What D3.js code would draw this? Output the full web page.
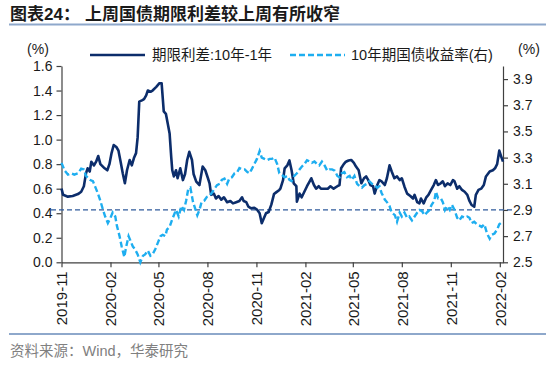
<!DOCTYPE html>
<html>
<head>
<meta charset="utf-8">
<script src="https://cdn.jsdelivr.net/npm/d3@7"></script>
<style>
  body { margin: 0; background: #fff; }
  svg { display: block; font-family: "Liberation Sans", "Noto Sans CJK SC", sans-serif; }
</style>
</head>
<body>
<svg id="chart" width="550" height="365"></svg>
<script>
// 期限利差:10年-1年 (left axis, %)
const spread = [
  ['2019-11-01', 0.60], ['2019-11-04', 0.55], ['2019-11-13', 0.535], ['2019-11-22', 0.54],
  ['2019-12-02', 0.556], ['2019-12-08', 0.575], ['2019-12-13', 0.62], ['2019-12-17', 0.725],
  ['2019-12-20', 0.766], ['2019-12-24', 0.74], ['2019-12-27', 0.82], ['2020-01-01', 0.79],
  ['2020-01-05', 0.82], ['2020-01-09', 0.866], ['2020-01-13', 0.80], ['2020-01-21', 0.766],
  ['2020-01-26', 0.75], ['2020-01-30', 0.80], ['2020-02-03', 0.89], ['2020-02-07', 0.956],
  ['2020-02-12', 0.94], ['2020-02-16', 0.91], ['2020-02-20', 0.82], ['2020-02-24', 0.725],
  ['2020-02-28', 0.644], ['2020-03-03', 0.75], ['2020-03-08', 0.834], ['2020-03-12', 0.79],
  ['2020-03-16', 0.85], ['2020-03-20', 0.89], ['2020-03-23', 1.02], ['2020-03-26', 1.31],
  ['2020-03-31', 1.32], ['2020-04-04', 1.33], ['2020-04-08', 1.36], ['2020-04-11', 1.40],
  ['2020-04-16', 1.39], ['2020-04-20', 1.40], ['2020-04-27', 1.43], ['2020-05-03', 1.46],
  ['2020-05-07', 1.46], ['2020-05-11', 1.23], ['2020-05-15', 1.21], ['2020-05-19', 1.12],
  ['2020-05-22', 1.05], ['2020-05-25', 0.86], ['2020-05-27', 0.75], ['2020-05-30', 0.70],
  ['2020-06-03', 0.75], ['2020-06-06', 0.685], ['2020-06-11', 0.766], ['2020-06-16', 0.67],
  ['2020-06-20', 0.72], ['2020-06-24', 0.834], ['2020-06-28', 0.90], ['2020-07-03', 0.834],
  ['2020-07-06', 0.72], ['2020-07-11', 0.657], ['2020-07-17', 0.63], ['2020-07-23', 0.78],
  ['2020-07-28', 0.75], ['2020-08-02', 0.685], ['2020-08-05', 0.644], ['2020-08-08', 0.55],
  ['2020-08-13', 0.56], ['2020-08-17', 0.52], ['2020-08-22', 0.54], ['2020-08-27', 0.51],
  ['2020-09-01', 0.53], ['2020-09-07', 0.49], ['2020-09-13', 0.50], ['2020-09-18', 0.48],
  ['2020-09-24', 0.49], ['2020-09-30', 0.50], ['2020-10-05', 0.53], ['2020-10-08', 0.50],
  ['2020-10-13', 0.49], ['2020-10-17', 0.453], ['2020-10-22', 0.44], ['2020-10-28', 0.445],
  ['2020-11-02', 0.43], ['2020-11-07', 0.40], ['2020-11-11', 0.318], ['2020-11-15', 0.36],
  ['2020-11-19', 0.40], ['2020-11-24', 0.41], ['2020-11-29', 0.47], ['2020-12-04', 0.556],
  ['2020-12-08', 0.57], ['2020-12-14', 0.59], ['2020-12-16', 0.60], ['2020-12-21', 0.67],
  ['2020-12-24', 0.766], ['2020-12-29', 0.79], ['2021-01-02', 0.83], ['2021-01-06', 0.75],
  ['2021-01-10', 0.644], ['2021-01-15', 0.62], ['2021-01-16', 0.494], ['2021-01-21', 0.56],
  ['2021-01-25', 0.53], ['2021-01-30', 0.575], ['2021-02-04', 0.62], ['2021-02-09', 0.66],
  ['2021-02-12', 0.685], ['2021-02-17', 0.63], ['2021-02-21', 0.60], ['2021-02-26', 0.62],
  ['2021-03-02', 0.60], ['2021-03-09', 0.60], ['2021-03-15', 0.60], ['2021-03-20', 0.62],
  ['2021-03-26', 0.60], ['2021-04-02', 0.62], ['2021-04-06', 0.63], ['2021-04-09', 0.766],
  ['2021-04-14', 0.80], ['2021-04-18', 0.82], ['2021-04-23', 0.83], ['2021-04-28', 0.834],
  ['2021-05-03', 0.81], ['2021-05-07', 0.78], ['2021-05-12', 0.75], ['2021-05-17', 0.644],
  ['2021-05-22', 0.685], ['2021-05-26', 0.70], ['2021-05-30', 0.67], ['2021-06-03', 0.63],
  ['2021-06-08', 0.62], ['2021-06-11', 0.56], ['2021-06-16', 0.63], ['2021-06-20', 0.67],
  ['2021-06-24', 0.66], ['2021-06-30', 0.63], ['2021-07-04', 0.685], ['2021-07-09', 0.79],
  ['2021-07-13', 0.74], ['2021-07-18', 0.685], ['2021-07-23', 0.70], ['2021-07-28', 0.67],
  ['2021-08-01', 0.685], ['2021-08-06', 0.616], ['2021-08-11', 0.56], ['2021-08-17', 0.54],
  ['2021-08-22', 0.52], ['2021-08-25', 0.55], ['2021-08-30', 0.49], ['2021-09-03', 0.48],
  ['2021-09-06', 0.52], ['2021-09-11', 0.48], ['2021-09-16', 0.53], ['2021-09-20', 0.55],
  ['2021-09-25', 0.59], ['2021-09-30', 0.63], ['2021-10-04', 0.67], ['2021-10-08', 0.63],
  ['2021-10-13', 0.644], ['2021-10-17', 0.66], ['2021-10-21', 0.62], ['2021-10-26', 0.644],
  ['2021-10-31', 0.63], ['2021-11-05', 0.67], ['2021-11-08', 0.66], ['2021-11-13', 0.60],
  ['2021-11-17', 0.62], ['2021-11-22', 0.59], ['2021-11-27', 0.575], ['2021-12-02', 0.55],
  ['2021-12-06', 0.50], ['2021-12-10', 0.467], ['2021-12-15', 0.453], ['2021-12-18', 0.55],
  ['2021-12-23', 0.59], ['2021-12-28', 0.60], ['2022-01-02', 0.63], ['2022-01-06', 0.70],
  ['2022-01-13', 0.74], ['2022-01-19', 0.75], ['2022-01-23', 0.766], ['2022-01-27', 0.80],
  ['2022-01-31', 0.91], ['2022-02-03', 0.87], ['2022-02-07', 0.82]
];

// 10年期国债收益率 (right axis, %)
const yield10y = [
  ['2019-11-01', 3.26], ['2019-11-07', 3.20], ['2019-11-13', 3.17], ['2019-11-19', 3.18],
  ['2019-11-25', 3.17], ['2019-12-02', 3.18], ['2019-12-08', 3.215], ['2019-12-13', 3.21],
  ['2019-12-17', 3.16], ['2019-12-24', 3.13], ['2019-12-30', 3.12], ['2020-01-03', 3.08],
  ['2020-01-08', 3.03], ['2020-01-13', 2.97], ['2020-01-18', 2.90], ['2020-01-22', 2.85],
  ['2020-01-27', 2.80], ['2020-02-01', 2.84], ['2020-02-05', 2.88], ['2020-02-10', 2.85],
  ['2020-02-13', 2.78], ['2020-02-18', 2.70], ['2020-02-22', 2.62], ['2020-02-27', 2.54],
  ['2020-03-01', 2.61], ['2020-03-06', 2.70], ['2020-03-10', 2.66], ['2020-03-14', 2.62],
  ['2020-03-18', 2.60], ['2020-03-23', 2.56], ['2020-03-28', 2.50], ['2020-04-02', 2.55],
  ['2020-04-06', 2.56], ['2020-04-11', 2.59], ['2020-04-16', 2.55], ['2020-04-20', 2.56],
  ['2020-04-25', 2.60], ['2020-04-30', 2.65], ['2020-05-05', 2.70], ['2020-05-09', 2.71],
  ['2020-05-14', 2.70], ['2020-05-17', 2.75], ['2020-05-22', 2.77], ['2020-05-27', 2.83],
  ['2020-05-30', 2.86], ['2020-06-03', 2.90], ['2020-06-08', 2.85], ['2020-06-13', 2.93],
  ['2020-06-18', 2.90], ['2020-06-22', 2.97], ['2020-06-26', 3.06], ['2020-06-30', 3.07],
  ['2020-07-05', 2.96], ['2020-07-09', 2.91], ['2020-07-13', 2.86], ['2020-07-17', 2.90],
  ['2020-07-21', 2.96], ['2020-07-26', 2.97], ['2020-07-31', 3.00], ['2020-08-05', 3.01],
  ['2020-08-09', 3.03], ['2020-08-14', 3.06], ['2020-08-19', 3.09], ['2020-08-24', 3.10],
  ['2020-08-28', 3.13], ['2020-09-02', 3.14], ['2020-09-07', 3.10], ['2020-09-11', 3.14],
  ['2020-09-16', 3.15], ['2020-09-21', 3.18], ['2020-09-26', 3.19], ['2020-09-30', 3.22],
  ['2020-10-05', 3.21], ['2020-10-10', 3.21], ['2020-10-15', 3.19], ['2020-10-19', 3.18],
  ['2020-10-23', 3.21], ['2020-10-28', 3.25], ['2020-11-02', 3.29], ['2020-11-07', 3.35],
  ['2020-11-11', 3.30], ['2020-11-16', 3.29], ['2020-11-21', 3.28], ['2020-11-26', 3.29],
  ['2020-11-30', 3.29], ['2020-12-05', 3.30], ['2020-12-10', 3.25], ['2020-12-14', 3.18],
  ['2020-12-18', 3.17], ['2020-12-24', 3.15], ['2020-12-29', 3.16], ['2021-01-02', 3.13],
  ['2021-01-06', 3.12], ['2021-01-11', 3.16], ['2021-01-16', 3.18], ['2021-01-21', 3.21],
  ['2021-01-25', 3.23], ['2021-01-30', 3.25], ['2021-02-04', 3.28], ['2021-02-09', 3.27],
  ['2021-02-13', 3.26], ['2021-02-18', 3.27], ['2021-02-23', 3.25], ['2021-02-27', 3.24],
  ['2021-03-04', 3.27], ['2021-03-09', 3.24], ['2021-03-14', 3.20], ['2021-03-18', 3.21],
  ['2021-03-23', 3.21], ['2021-03-28', 3.20], ['2021-04-02', 3.16], ['2021-04-06', 3.15],
  ['2021-04-10', 3.18], ['2021-04-15', 3.19], ['2021-04-20', 3.15], ['2021-04-25', 3.16],
  ['2021-04-29', 3.13], ['2021-05-04', 3.16], ['2021-05-09', 3.10], ['2021-05-14', 3.08],
  ['2021-05-18', 3.07], ['2021-05-23', 3.09], ['2021-05-28', 3.10], ['2021-06-01', 3.12],
  ['2021-06-06', 3.10], ['2021-06-11', 3.09], ['2021-06-16', 3.07], ['2021-06-20', 3.08],
  ['2021-06-24', 3.03], ['2021-06-30', 2.98], ['2021-07-04', 2.96], ['2021-07-09', 2.93],
  ['2021-07-13', 2.88], ['2021-07-19', 2.86], ['2021-07-23', 2.81], ['2021-07-28', 2.88],
  ['2021-08-01', 2.85], ['2021-08-06', 2.88], ['2021-08-11', 2.84], ['2021-08-15', 2.85],
  ['2021-08-20', 2.82], ['2021-08-25', 2.85], ['2021-08-30', 2.88], ['2021-09-03', 2.90],
  ['2021-09-08', 2.89], ['2021-09-13', 2.86], ['2021-09-17', 2.88], ['2021-09-22', 2.90],
  ['2021-09-26', 2.94], ['2021-10-01', 2.97], ['2021-10-04', 3.04], ['2021-10-08', 2.99],
  ['2021-10-13', 2.99], ['2021-10-17', 2.96], ['2021-10-21', 2.90], ['2021-10-25', 2.93],
  ['2021-10-30', 2.90], ['2021-11-03', 2.94], ['2021-11-08', 2.90], ['2021-11-13', 2.84],
  ['2021-11-17', 2.82], ['2021-11-22', 2.85], ['2021-11-27', 2.84], ['2021-12-02', 2.85],
  ['2021-12-06', 2.84], ['2021-12-10', 2.80], ['2021-12-15', 2.81], ['2021-12-20', 2.79],
  ['2021-12-25', 2.78], ['2021-12-29', 2.77], ['2022-01-03', 2.79], ['2022-01-08', 2.72],
  ['2022-01-13', 2.68], ['2022-01-17', 2.71], ['2022-01-22', 2.72], ['2022-01-27', 2.75],
  ['2022-01-31', 2.79], ['2022-02-03', 2.80], ['2022-02-07', 2.79]
];

const leftTicks = [0.0, 0.2, 0.4, 0.6, 0.8, 1.0, 1.2, 1.4, 1.6];
const rightTicks = [2.5, 2.7, 2.9, 3.1, 3.3, 3.5, 3.7, 3.9];
const monthTicks = ['2019-11', '2020-02', '2020-05', '2020-08', '2020-11',
                    '2021-02', '2021-05', '2021-08', '2021-11', '2022-02'];
const refLevel = 2.9; // dashed line on the right axis

const COLORS = {
  spread: '#0c2d6b',
  yield: '#1eaef0',
  ref: '#2f5b9c',
  axis: '#404040',
  text: '#1a1a1a',
  rule: '#8ea8cb',
  source: '#808080'
};

const parse = d3.timeParse('%Y-%m-%d');
const parseMonth = d3.timeParse('%Y-%m');
const spreadData = spread.map(([d, v]) => ({ date: parse(d), v }));
const yieldData = yield10y.map(([d, v]) => ({ date: parse(d), v }));

const svg = d3.select('#chart');
const plot = { left: 61.5, right: 503, top: 66, bottom: 262.3 };

const x = d3.scaleTime()
  .domain([parse('2019-11-01'), parse('2022-02-07')])
  .range([plot.left, plot.right]);
const yL = d3.scaleLinear().domain([0, 1.6]).range([plot.bottom, plot.top]);
const yR = d3.scaleLinear().domain([2.5, 4.0]).range([plot.bottom, plot.top]);

// Title + rules
svg.append('text').attr('x', 10).attr('y', 19.5)
  .attr('font-size', 17).attr('font-weight', 'bold').attr('fill', COLORS.text)
  .text('图表24：');
svg.append('text').attr('x', 85).attr('y', 19.5)
  .attr('font-size', 17).attr('font-weight', 'bold').attr('fill', COLORS.text)
  .text('上周国债期限利差较上周有所收窄');
svg.append('line').attr('x1', 9).attr('x2', 546).attr('y1', 24.5).attr('y2', 24.5)
  .attr('stroke', COLORS.rule).attr('stroke-width', 2);
svg.append('line').attr('x1', 9).attr('x2', 546).attr('y1', 334).attr('y2', 334)
  .attr('stroke', COLORS.rule).attr('stroke-width', 2);
svg.append('text').attr('x', 10).attr('y', 350.5).attr('dy', '0.35em')
  .attr('font-size', 14.5).attr('fill', COLORS.source)
  .text('资料来源：Wind，华泰研究');

// Unit labels
svg.append('text').attr('x', 38).attr('y', 49).attr('dy', '0.35em')
  .attr('text-anchor', 'middle').attr('font-size', 14).attr('fill', COLORS.text).text('(%)');
svg.append('text').attr('x', 529).attr('y', 49).attr('dy', '0.35em')
  .attr('text-anchor', 'middle').attr('font-size', 14).attr('fill', COLORS.text).text('(%)');

// Axes
const leftAxis = svg.append('g').attr('transform', `translate(${plot.left},0)`)
  .call(d3.axisLeft(yL).tickValues(leftTicks).tickFormat(d3.format('.1f'))
    .tickSize(5).tickSizeOuter(0).tickPadding(4));
const rightAxis = svg.append('g').attr('transform', `translate(${plot.right},0)`)
  .call(d3.axisRight(yR).tickValues(rightTicks).tickFormat(d3.format('.1f'))
    .tickSize(5).tickSizeOuter(0).tickPadding(5));
const xAxis = svg.append('g').attr('transform', `translate(0,${plot.bottom})`)
  .call(d3.axisBottom(x).tickValues(monthTicks.map(parseMonth))
    .tickFormat(d3.timeFormat('%Y-%m')).tickSize(5).tickSizeOuter(0));
xAxis.selectAll('text')
  .attr('transform', 'rotate(-90)')
  .attr('text-anchor', 'end')
  .attr('x', -9).attr('y', 0).attr('dy', '0.35em')
  .attr('font-size', 15);

[leftAxis, rightAxis].forEach(g => g.selectAll('text').attr('font-size', 14));
[leftAxis, rightAxis, xAxis].forEach(g => {
  g.selectAll('.domain, .tick line').attr('stroke', COLORS.axis).attr('stroke-width', 1.2);
  g.selectAll('text').attr('fill', COLORS.text);
  g.attr('font-family', null);
});

// Reference dashed line at 2.9 (right axis)
svg.append('line')
  .attr('x1', 51).attr('x2', 513)
  .attr('y1', yR(refLevel)).attr('y2', yR(refLevel))
  .attr('stroke', COLORS.ref).attr('stroke-width', 1.3).attr('stroke-dasharray', '5,3');

// Series
const spreadLine = d3.line().x(d => x(d.date)).y(d => yL(d.v));
const yieldLine = d3.line().x(d => x(d.date)).y(d => yR(d.v));

svg.append('path').datum(spreadData)
  .attr('d', spreadLine).attr('fill', 'none')
  .attr('stroke', COLORS.spread).attr('stroke-width', 2.6).attr('stroke-linejoin', 'round');
svg.append('path').datum(yieldData)
  .attr('d', yieldLine).attr('fill', 'none')
  .attr('stroke', COLORS.yield).attr('stroke-width', 2.4).attr('stroke-dasharray', '6,3');

// Legend
const legend = svg.append('g').attr('font-size', 14.5).attr('fill', COLORS.text);
legend.append('line').attr('x1', 90).attr('x2', 145).attr('y1', 55).attr('y2', 55)
  .attr('stroke', COLORS.spread).attr('stroke-width', 2.6);
legend.append('text').attr('x', 152).attr('y', 55).attr('dy', '0.35em').text('期限利差:10年-1年');
legend.append('line').attr('x1', 290).attr('x2', 345).attr('y1', 55).attr('y2', 55)
  .attr('stroke', COLORS.yield).attr('stroke-width', 2.4).attr('stroke-dasharray', '6,3');
legend.append('text').attr('x', 351).attr('y', 55).attr('dy', '0.35em').text('10年期国债收益率(右)');
</script>
</body>
</html>
